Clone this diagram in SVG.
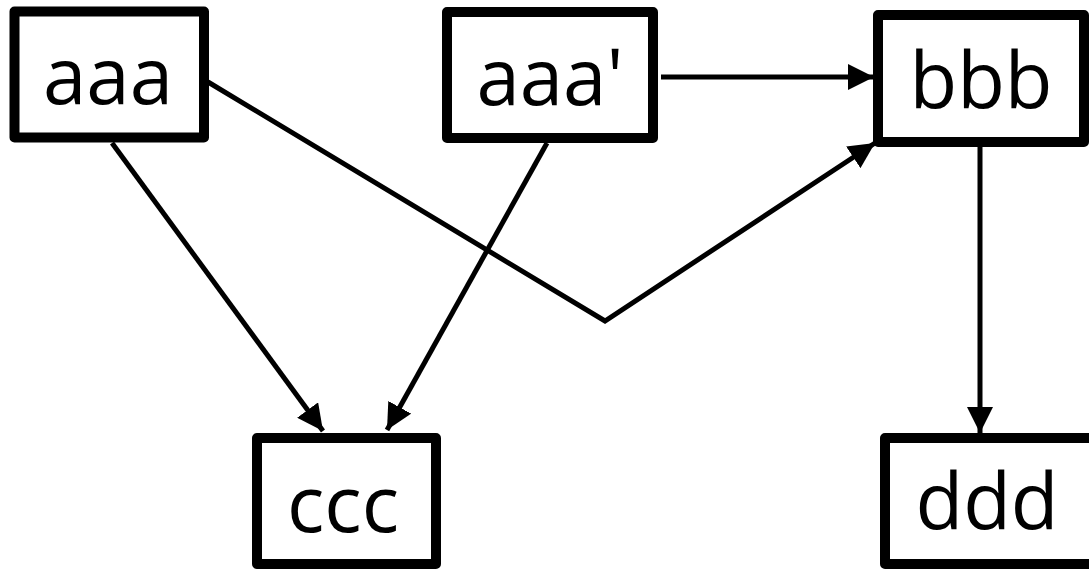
<svg xmlns="http://www.w3.org/2000/svg" width="1089" height="569" viewBox="0 0 1089 569">
  <defs>
    <style>
      .box { fill: #ffffff; stroke: #000000; stroke-width: 10; stroke-linejoin: round; }
      .label { font-family: "Open Sans", "Noto Sans", sans-serif; font-size: 78px; fill: #000000; text-anchor: middle; }
      .edge { fill: none; stroke: #000000; stroke-width: 5; stroke-linejoin: miter; }
    </style>
    <marker id="arrow" viewBox="0 0 10 10" refX="10" refY="5" markerUnits="userSpaceOnUse" markerWidth="26" markerHeight="26" orient="auto">
      <path d="M0,0 L10,5 L0,10 Z" fill="#000000"/>
    </marker>
  </defs>
  <rect width="1089" height="569" fill="#ffffff"/>

  <g id="connectors">
    <line class="edge" x1="661" y1="77" x2="874" y2="77" marker-end="url(#arrow)"/>
    <line class="edge" x1="112" y1="143" x2="323" y2="431" marker-end="url(#arrow)"/>
    <line class="edge" x1="547" y1="143" x2="387" y2="430" marker-end="url(#arrow)"/>
    <polyline class="edge" points="208,82 605,321 875,143" marker-end="url(#arrow)"/>
    <line class="edge" x1="980" y1="147" x2="980" y2="433" marker-end="url(#arrow)"/>
  </g>

  <g id="node-aaa">
    <rect class="box" x="14.5" y="11.5" width="189.5" height="126"/>
    <text class="label" x="108" y="104">aaa</text>
  </g>
  <g id="node-aaa-prime">
    <rect class="box" x="447" y="12" width="206" height="126"/>
    <text class="label" x="550" y="105">aaa'</text>
  </g>
  <g id="node-bbb">
    <rect class="box" x="878" y="15" width="206" height="127"/>
    <text class="label" x="981" y="108">bbb</text>
  </g>
  <g id="node-ccc">
    <rect class="box" x="257" y="438" width="179" height="126"/>
    <text class="label" x="343" y="532">ccc</text>
  </g>
  <g id="node-ddd">
    <rect class="box" x="885" y="438" width="212" height="126"/>
    <text class="label" x="987" y="529">ddd</text>
  </g>
</svg>
